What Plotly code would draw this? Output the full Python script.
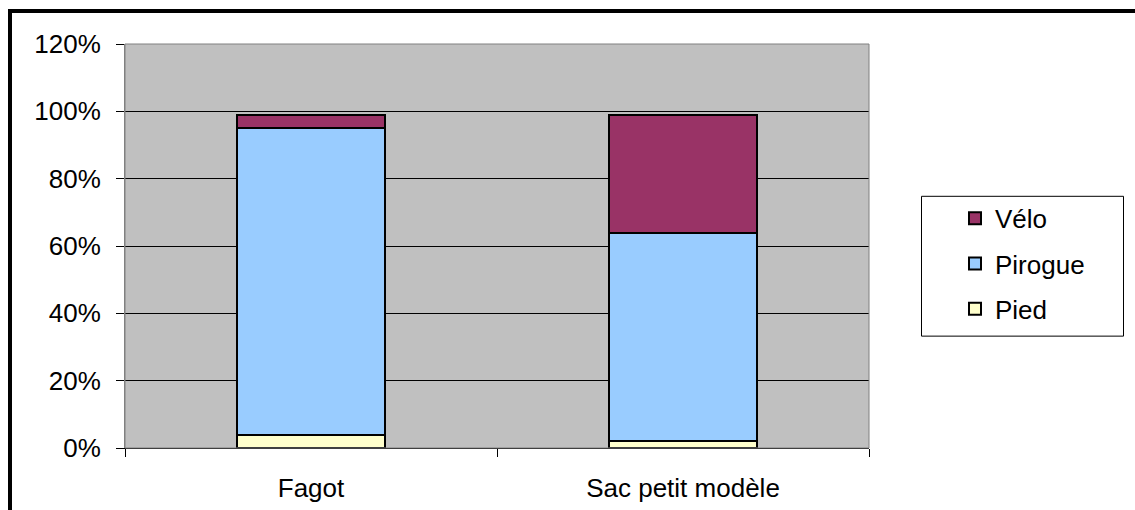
import plotly.graph_objects as go

# Share of each transport mode per load type (percent)
categories = ["Fagot", "Sac petit modèle"]
pied = [4, 2]
pirogue = [91, 62]
velo = [4, 35]

# (name, values, colour, legend rank)
series = [
    ("Pied", pied, "#FFFFCC", 3),
    ("Pirogue", pirogue, "#99CCFF", 2),
    ("Vélo", velo, "#993366", 1),
]

W, H = 1135, 510
L, R, T, B = 125, 266, 44, 61.5
pw, ph = W - L - R, H - T - B


def px_x(x):
    return (x - L) / pw


def px_y(y):
    return (H - B - y) / ph


fig = go.Figure()
for name, vals, color, rank in series:
    fig.add_trace(go.Bar(
        x=categories, y=vals, name=name, legendgroup=name, legendrank=rank,
        marker=dict(color=color, line=dict(color="black", width=2)),
        width=0.4,
    ))

font = dict(family="Liberation Sans, Arial, sans-serif", size=26, color="black")

fig.update_layout(
    width=W, height=H,
    margin=dict(l=L, r=R, t=T, b=B, autoexpand=False),
    barmode="stack",
    paper_bgcolor="white",
    plot_bgcolor="#C0C0C0",
    font=font,
    showlegend=True,
    legend=dict(
        x=px_x(955), y=px_y(195), xanchor="left", yanchor="top",
        traceorder="grouped", tracegroupgap=8.5,
        bgcolor="rgba(0,0,0,0)", borderwidth=0,
        font=font,
    ),
    xaxis=dict(
        type="category", tickson="boundaries", ticks="outside", ticklen=8,
        tickcolor="black", showline=True, linecolor="black", linewidth=1,
        mirror=False, showgrid=False, tickfont=font, ticklabelstandoff=17,
    ),
    yaxis=dict(
        range=[0, 120], dtick=20, ticksuffix="%", ticks="outside", ticklen=8,
        tickcolor="black", showline=True, linecolor="#808080", linewidth=1,
        showgrid=True, gridcolor="black", gridwidth=1, zeroline=False,
        tickfont=font, ticklabelstandoff=10,
    ),
    shapes=[
        # plot area frame
        dict(type="rect", xref="paper", yref="paper", x0=0, y0=0, x1=1, y1=1,
             line=dict(color="#808080", width=1), layer="above"),
        # legend box
        dict(type="rect", xref="paper", yref="paper",
             x0=px_x(921.5), x1=px_x(1123.5), y0=px_y(336.5), y1=px_y(196.5),
             line=dict(color="black", width=1), fillcolor="white", layer="below"),
        # outer chart frame
        dict(type="rect", xref="paper", yref="paper",
             x0=px_x(10), x1=px_x(1145), y0=px_y(520), y1=px_y(11),
             line=dict(color="black", width=4)),
    ],
)

fig.write_html("out.html")
